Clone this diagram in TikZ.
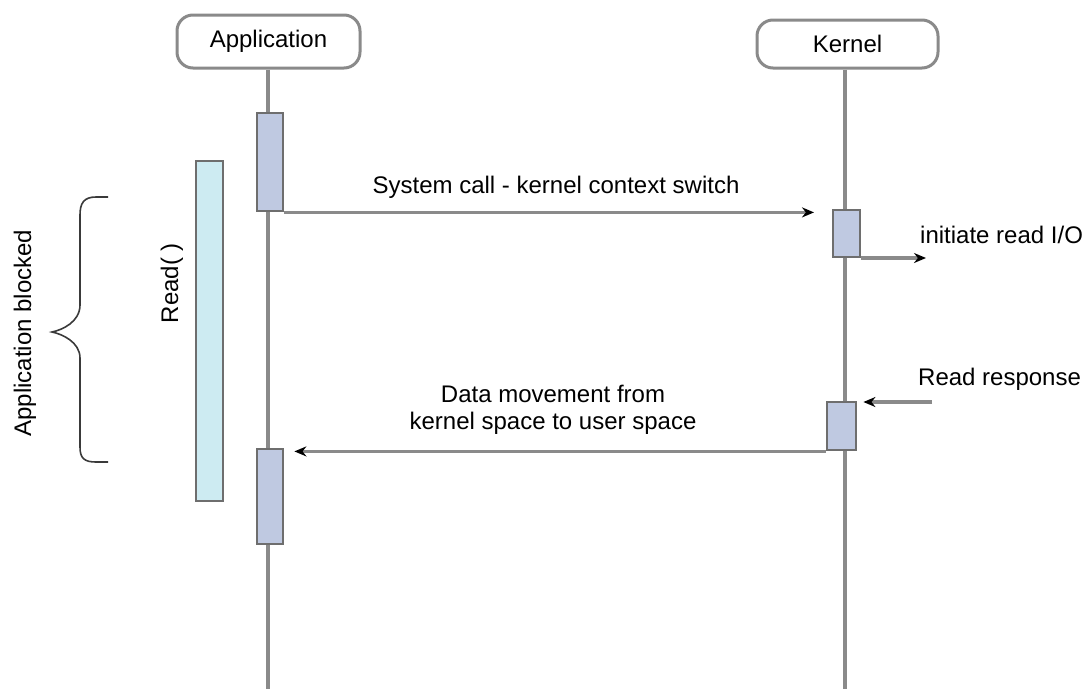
\documentclass[tikz,border=0pt]{standalone}
\usepackage{fontspec}
\setmainfont{Liberation Sans}
\usetikzlibrary{arrows.meta}
\definecolor{lifegray}{HTML}{8A8A8A}
\definecolor{boxline}{HTML}{6E6E6E}
\definecolor{actfill}{HTML}{BFC9E1}
\definecolor{readfill}{HTML}{CDEBF2}
\definecolor{bracegray}{HTML}{3A3A3A}
\tikzset{
  lbl/.style={font=\fontsize{24}{27}\selectfont, inner sep=0pt, text=black},
  header/.style={draw=lifegray, line width=3pt, rounded corners=16pt, fill=white, lbl},
  lifeline/.style={draw=lifegray, line width=3.5pt},
  actbox/.style={draw=boxline, line width=2.8pt, fill=actfill, inner sep=0pt, minimum width=26pt},
  readbox/.style={draw=boxline, line width=2.8pt, fill=readfill, inner sep=0pt},
  msg/.style={draw=lifegray, line width=3.4pt, -{Stealth[length=12pt,width=10pt,black]}},
}
\begin{document}
\begin{tikzpicture}[x=1pt,y=-1pt]
\useasboundingbox (0,0) rectangle (1086,689);
% headers
\node[header, minimum width=183pt, minimum height=53pt] (app) at (268.5,41.5) {Application};
\node[header, minimum width=181pt, minimum height=48pt] (kern) at (847.5,44) {Kernel};
% lifeline ends
\coordinate (append) at (268,689);
\coordinate (kernend) at (845,689);
\draw[lifeline] (app.south -| append) -- (append);
\draw[lifeline] (kern.south -| kernend) -- (kernend);
% activation boxes
\node[actbox, minimum height=98pt] (a1) at (270,162) {};
\node[actbox, minimum height=95pt] (a2) at (270,496.5) {};
\node[actbox, minimum width=27pt, minimum height=47pt] (k1) at (846.5,233.5) {};
\node[actbox, minimum width=29pt, minimum height=48pt] (k2) at (841.5,426) {};
\node[readbox, minimum width=27pt, minimum height=340pt] (rd) at (209.5,331) {};
% messages
\coordinate (sctip) at (814,210);
\draw[msg] (a1.south east) -- (sctip |- a1.south east);
\node[lbl, anchor=base] (sclbl) at (556,193) {System call - kernel context switch};
\coordinate (iotip) at (926,258);
\draw[msg] (k1.south east |- iotip) -- (iotip);
\node[lbl, anchor=base west] (iolbl) at (920,243) {initiate read I/O};
\coordinate (rrstart) at (932,402);
\draw[msg] (rrstart) -- ([xshift=6pt]k2.north east |- rrstart);
\node[lbl, anchor=base west] (rrlbl) at (918,385) {Read response};
\draw[msg] (k2.south west) -- ([xshift=10pt]a2.north east |- k2.south west);
\node[lbl, align=center] (dmlbl) at (553,410) {Data movement from\\kernel space to user space};
% read label and brace
\node[lbl, rotate=90] (rdlbl) at (172,283) {Read( )};
\node[lbl, rotate=90] (blk) at (25,333) {Application blocked};
\draw[bracegray, line width=1.6pt]
  (108,197) -- (96,197) .. controls (84,197) and (80,203) .. (80,215) -- (80,305)
  .. controls (80,322) and (62,330) .. (52,332)
  .. controls (62,334) and (80,342) .. (80,358) -- (80,447)
  .. controls (80,458) and (84,462) .. (96,462) -- (108,462);
\end{tikzpicture}
\end{document}
